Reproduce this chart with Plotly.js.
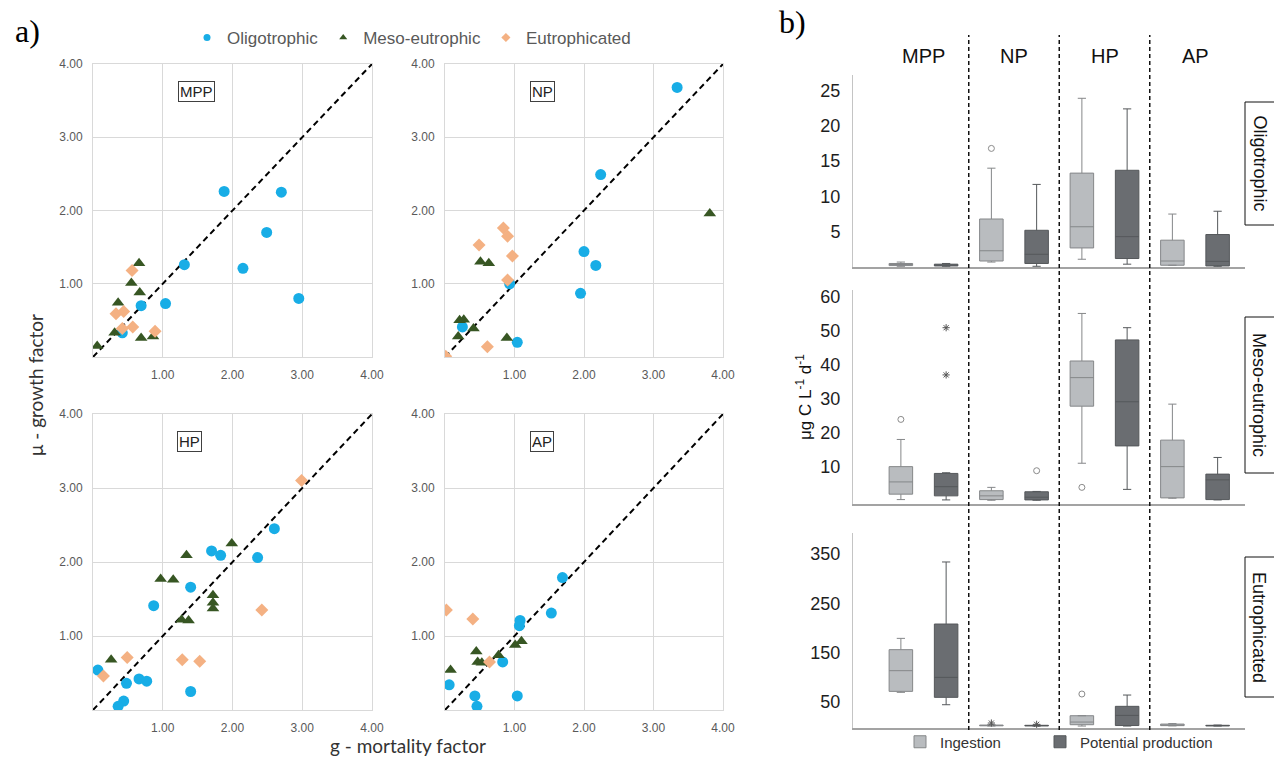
<!DOCTYPE html>
<html><head><meta charset="utf-8">
<script src="https://cdn.plot.ly/plotly-3.0.1.min.js"></script>
<style>html,body{margin:0;padding:0;background:#fff}#chart{width:1274px;height:767px}</style>
</head><body><div id="chart"></div>
<script>
// ---------------- DATA : panel a (g = mortality factor, mu = growth factor) ----------------
const predators = ['MPP', 'NP', 'HP', 'AP'];
const trophic = ['Oligotrophic', 'Meso-eutrophic', 'Eutrophicated'];

const mppOligoG  = [1.88, 2.70, 2.49, 1.31, 2.15, 2.95, 1.04, 0.69, 0.42];
const mppOligoMu = [2.26, 2.25, 1.70, 1.26, 1.21, 0.80, 0.73, 0.70, 0.33];
const mppMesoG   = [0.66, 0.55, 0.67, 0.36, 0.31, 0.69, 0.86, 0.06];
const mppMesoMu  = [1.28, 1.01, 0.88, 0.74, 0.33, 0.26, 0.28, 0.15];
const mppEutroG  = [0.56, 0.33, 0.44, 0.42, 0.57, 0.89];
const mppEutroMu = [1.18, 0.59, 0.62, 0.39, 0.41, 0.35];

const npOligoG  = [3.34, 2.24, 2.00, 2.17, 1.95, 0.93, 1.04, 0.25, 0.00];
const npOligoMu = [3.68, 2.49, 1.44, 1.25, 0.87, 1.00, 0.20, 0.41, 0.00];
const npMesoG   = [3.81, 0.51, 0.63, 0.21, 0.27, 0.41, 0.19, 0.89, 0.00];
const npMesoMu  = [1.96, 1.30, 1.28, 0.50, 0.51, 0.39, 0.28, 0.26, 0.00];
const npEutroG  = [0.84, 0.90, 0.49, 0.97, 0.90, 0.61, 0.01];
const npEutroMu = [1.76, 1.65, 1.53, 1.38, 1.05, 0.14, 0.01];

const hpOligoG  = [2.60, 1.70, 1.83, 2.36, 1.40, 0.87, 0.07, 0.48, 0.66, 0.77, 1.40, 0.44, 0.36];
const hpOligoMu = [2.45, 2.15, 2.09, 2.06, 1.66, 1.41, 0.54, 0.36, 0.42, 0.39, 0.25, 0.12, 0.05];
const hpMesoG   = [1.99, 1.34, 0.97, 1.15, 1.72, 1.72, 1.72, 1.27, 1.37, 0.26];
const hpMesoMu  = [2.25, 2.09, 1.77, 1.76, 1.55, 1.45, 1.37, 1.22, 1.21, 0.68];
const hpEutroG  = [2.99, 2.42, 1.28, 1.53, 0.49, 0.15];
const hpEutroMu = [3.10, 1.35, 0.68, 0.66, 0.71, 0.46];

const apOligoG  = [1.69, 1.53, 1.08, 1.07, 0.83, 0.06, 0.43, 0.46, 1.04];
const apOligoMu = [1.79, 1.31, 1.21, 1.14, 0.65, 0.34, 0.19, 0.05, 0.19];
const apMesoG   = [1.10, 1.01, 0.77, 0.45, 0.47, 0.53, 0.08];
const apMesoMu  = [0.93, 0.88, 0.74, 0.79, 0.65, 0.64, 0.54];
const apEutroG  = [0.02, 0.40, 0.64];
const apEutroMu = [1.35, 1.23, 0.65];

const oneToOne = [0, 4];
const scatterTicks = [1, 2, 3, 4];

// ---------------- DATA : panel b (ug C L-1 d-1), order = predators ----------------
const series = ['Ingestion', 'Potential production'];

const oligoIngLow  = [0.1, 0.7, 1.1, 0.25];
const oligoIngQ1   = [0.2, 0.85, 2.7, 0.25];
const oligoIngMed  = [0.35, 2.3, 5.7, 0.85];
const oligoIngQ3   = [0.5, 6.8, 13.3, 3.8];
const oligoIngHigh = [0.7, 14.0, 23.9, 7.5];
const oligoProLow  = [0.1, 0.1, 0.4, 0.1];
const oligoProQ1   = [0.15, 0.5, 1.2, 0.15];
const oligoProMed  = [0.3, 1.8, 4.3, 0.8];
const oligoProQ3   = [0.4, 5.2, 13.7, 4.6];
const oligoProHigh = [0.5, 11.7, 22.4, 7.9];

const mesoIngLow  = [0.3, 0.1, 11.0, 0.7];
const mesoIngQ1   = [1.9, 0.3, 27.8, 0.8];
const mesoIngMed  = [5.5, 1.4, 36.2, 10.0];
const mesoIngQ3   = [10.0, 2.9, 41.1, 17.8];
const mesoIngHigh = [18.0, 3.9, 55.1, 28.4];
const mesoProLow  = [0.2, 0.1, 3.3, 0.2];
const mesoProQ1   = [1.4, 0.2, 16.1, 0.3];
const mesoProMed  = [4.1, 1.0, 29.1, 6.1];
const mesoProQ3   = [8.0, 2.6, 47.3, 7.8];
const mesoProHigh = [8.2, 2.7, 50.9, 12.7];

const eutroIngLow  = [68.6, 0.0, 0.0, 0.3];
const eutroIngQ1   = [70.6, 0.5, 2.7, 0.8];
const eutroIngMed  = [112.7, 1.0, 8.1, 2.0];
const eutroIngQ3   = [155.5, 2.0, 21.0, 4.0];
const eutroIngHigh = [178.5, 3.0, 21.0, 5.0];
const eutroProLow  = [43.4, 0.0, 0.0, 0.0];
const eutroProQ1   = [58.4, 0.3, 1.0, 0.3];
const eutroProMed  = [99.1, 0.8, 21.7, 0.8];
const eutroProQ3   = [207.7, 1.5, 40.1, 1.5];
const eutroProHigh = [334.0, 2.0, 63.1, 2.0];

const outlierRow      = ['Oligotrophic', 'Meso-eutrophic', 'Meso-eutrophic', 'Meso-eutrophic', 'Meso-eutrophic', 'Meso-eutrophic', 'Eutrophicated', 'Eutrophicated', 'Eutrophicated'];
const outlierPredator = ['NP', 'MPP', 'MPP', 'MPP', 'NP', 'HP', 'NP', 'NP', 'HP'];
const outlierSeries   = ['Ingestion', 'Ingestion', 'Potential production', 'Potential production', 'Potential production', 'Ingestion', 'Ingestion', 'Potential production', 'Ingestion'];
const outlierValue    = [16.8, 23.9, 50.9, 37.0, 8.8, 3.9, 6.1, 3.5, 65.2];
const outlierKind     = ['mild', 'mild', 'extreme', 'extreme', 'mild', 'mild', 'extreme', 'extreme', 'mild'];

const oligoTicks = [5, 10, 15, 20, 25];
const mesoTicks = [10, 20, 30, 40, 50, 60];
const eutroTicks = [50, 150, 250, 350];

// ---------------- BUILD ----------------
const W = 1274, H = 767;
const px = v => v / W;
const py = v => 1 - v / H;

const trophicColor = ['#18ade6', '#375623', '#f4b183'];
const trophicSymbol = ['circle', 'triangle-up', 'diamond'];
const trophicSize = [11, 11, 10];

const scatterSets = [
  [[mppOligoG, mppOligoMu], [mppMesoG, mppMesoMu], [mppEutroG, mppEutroMu]],
  [[npOligoG, npOligoMu], [npMesoG, npMesoMu], [npEutroG, npEutroMu]],
  [[hpOligoG, hpOligoMu], [hpMesoG, hpMesoMu], [hpEutroG, hpEutroMu]],
  [[apOligoG, apOligoMu], [apMesoG, apMesoMu], [apEutroG, apEutroMu]]
];

const traces = [];
scatterSets.forEach((sets, p) => {
  const ax = p === 0 ? '' : String(p + 1);
  traces.push({
    type: 'scatter', mode: 'lines', x: oneToOne, y: oneToOne,
    xaxis: 'x' + ax, yaxis: 'y' + ax, showlegend: false, hoverinfo: 'skip',
    line: {color: '#000', width: 2, dash: '6px,4px'}
  });
  sets.forEach((s, t) => {
    traces.push({
      type: 'scatter', mode: 'markers', x: s[0], y: s[1],
      xaxis: 'x' + ax, yaxis: 'y' + ax, showlegend: false, name: trophic[t],
      marker: {symbol: trophicSymbol[t], size: trophicSize[t], color: trophicColor[t]}
    });
  });
});
// legend entries
trophic.forEach((t, i) => {
  traces.push({
    type: 'scatter', mode: 'markers', x: [null], y: [null], name: t,
    xaxis: 'x', yaxis: 'y', legend: 'legend', showlegend: true,
    marker: {symbol: trophicSymbol[i], size: 7, color: trophicColor[i]}
  });
});

// boxes
const boxRows = [
  [[oligoIngLow, oligoIngQ1, oligoIngMed, oligoIngQ3, oligoIngHigh], [oligoProLow, oligoProQ1, oligoProMed, oligoProQ3, oligoProHigh]],
  [[mesoIngLow, mesoIngQ1, mesoIngMed, mesoIngQ3, mesoIngHigh], [mesoProLow, mesoProQ1, mesoProMed, mesoProQ3, mesoProHigh]],
  [[eutroIngLow, eutroIngQ1, eutroIngMed, eutroIngQ3, eutroIngHigh], [eutroProLow, eutroProQ1, eutroProMed, eutroProQ3, eutroProHigh]]
];
const seriesFill = ['#b9bcbf', '#6a6d71'];
const seriesLine = ['#858789', '#55585b'];
const seriesOffset = [-0.25, 0.25];
const seriesLegend = ['legend2', 'legend3'];

boxRows.forEach((row, r) => {
  row.forEach((st, s) => {
    traces.push({
      type: 'box', name: series[s],
      x: predators.map((_, i) => i + seriesOffset[s]),
      lowerfence: st[0], q1: st[1], median: st[2], q3: st[3], upperfence: st[4],
      xaxis: 'x' + (5 + r), yaxis: 'y' + (5 + r),
      width: 0.26, whiskerwidth: 0.35, boxpoints: false,
      fillcolor: seriesFill[s], line: {color: seriesLine[s], width: 1},
      showlegend: r === 0, legend: seriesLegend[s], hoverinfo: 'skip'
    });
  });
});

// outliers
trophic.forEach((t, r) => {
  ['mild', 'extreme'].forEach(kind => {
    const xs = [], ys = [];
    outlierValue.forEach((v, k) => {
      if (outlierRow[k] === t && outlierKind[k] === kind) {
        xs.push(predators.indexOf(outlierPredator[k]) + seriesOffset[series.indexOf(outlierSeries[k])]);
        ys.push(v);
      }
    });
    if (xs.length) traces.push({
      type: 'scatter', mode: 'markers', x: xs, y: ys, showlegend: false,
      xaxis: 'x' + (5 + r), yaxis: 'y' + (5 + r), cliponaxis: false,
      marker: kind === 'mild'
        ? {symbol: 'circle-open', size: 6, color: '#8a8a8a', line: {width: 1}}
        : {symbol: 'asterisk-open', size: 6, color: '#555', line: {width: 1}}
    });
  });
});

// ---------------- LAYOUT ----------------
const tickFontA = {family: 'Liberation Sans, Arial, sans-serif', size: 12, color: '#595959'};
function scatterAxis(d0, d1, anchor) {
  return {
    domain: [d0, d1], range: [0, 4], tickvals: scatterTicks, tickformat: '.2f',
    showgrid: true, gridcolor: '#d9d9d9', gridwidth: 1, zeroline: false,
    showline: true, mirror: true, linecolor: '#d9d9d9', linewidth: 1,
    ticks: 'outside', ticklen: 7, tickcolor: 'rgba(0,0,0,0)', tickfont: tickFontA,
    anchor: anchor, fixedrange: true
  };
}
const scatterBoxes = [[93, 372, 64, 357], [445, 723, 64, 357], [93, 372, 414, 710], [445, 723, 414, 710]];

const legendBase = {
  orientation: 'h', xanchor: 'left', yanchor: 'middle',
  bgcolor: 'rgba(0,0,0,0)', itemclick: false, itemdoubleclick: false
};
const layout = {
  width: W, height: H, margin: {l: 0, r: 0, t: 0, b: 0},
  paper_bgcolor: '#fff', plot_bgcolor: 'rgba(0,0,0,0)',
  font: {family: 'Liberation Sans, Arial, sans-serif', color: '#222'},
  showlegend: true,
  legend: Object.assign({x: px(187), y: py(38),
    font: {family: 'Liberation Sans, Arial, sans-serif', size: 17, color: '#595959'}}, legendBase),
  legend2: Object.assign({x: px(900), y: py(742),
    font: {family: 'Liberation Sans, Arial, sans-serif', size: 15, color: '#333'}}, legendBase),
  legend3: Object.assign({x: px(1040), y: py(742),
    font: {family: 'Liberation Sans, Arial, sans-serif', size: 15, color: '#333'}}, legendBase),
  annotations: [], shapes: []
};

scatterBoxes.forEach((b, i) => {
  const ax = i === 0 ? '' : String(i + 1);
  layout['xaxis' + ax] = scatterAxis(px(b[0]), px(b[1]), 'y' + ax);
  layout['yaxis' + ax] = scatterAxis(py(b[3]), py(b[2]), 'x' + ax);
});
// predator labels in scatter panels
const labelPos = [[1.49, 3.62], [1.40, 3.62], [1.39, 3.63], [1.40, 3.63]];
predators.forEach((p, i) => {
  const ax = i === 0 ? '' : String(i + 1);
  layout.annotations.push({
    text: p, x: labelPos[i][0], y: labelPos[i][1], xref: 'x' + ax, yref: 'y' + ax,
    xanchor: 'center', yanchor: 'middle',
    showarrow: false, font: {size: 15, color: '#222'},
    bordercolor: '#404040', borderwidth: 1, borderpad: 1, bgcolor: '#fff'
  });
});

// box axes
const boxX = [853, 1245];
const unitPx = 90.5, zeroPx = 923.5;
const boxXRange = [-(zeroPx - boxX[0]) / unitPx, (boxX[1] - zeroPx) / unitPx];
const boxYDom = [[75, 267], [290, 504], [533, 728]];
const boxYRange = [[0, 27.2], [-1.0, 62], [-4, 393]];
const boxYTicks = [oligoTicks, mesoTicks, eutroTicks];
[0, 1, 2].forEach(r => {
  layout['xaxis' + (5 + r)] = {
    domain: [px(boxX[0]), px(boxX[1])], range: boxXRange, showticklabels: false,
    showgrid: false, zeroline: false, showline: true, linecolor: '#a3a3a3', linewidth: 1.5,
    ticks: '', anchor: 'y' + (5 + r), fixedrange: true
  };
  layout['yaxis' + (5 + r)] = {
    domain: [py(boxYDom[r][1]), py(boxYDom[r][0])], range: boxYRange[r], tickvals: boxYTicks[r],
    showgrid: false, zeroline: false, showline: true, linecolor: '#c4c4c4', linewidth: 1,
    ticks: 'outside', ticklen: 8, tickcolor: 'rgba(0,0,0,0)',
    tickfont: {family: 'Liberation Sans, Arial, sans-serif', size: 18, color: '#1e1e1e'},
    anchor: 'x' + (5 + r), fixedrange: true
  };
});

// column headers and dividers
predators.forEach((p, i) => {
  layout.annotations.push({
    text: p, x: i, xref: 'x5', y: py(56), yref: 'paper', showarrow: false,
    xanchor: 'center', yanchor: 'middle',
    font: {size: 20, color: '#111'}
  });
  if (i < predators.length - 1) {
    layout.shapes.push({
      type: 'line', xref: 'x5', x0: i + 0.5, x1: i + 0.5, yref: 'paper', y0: py(730), y1: py(35),
      line: {color: '#111', width: 1.5, dash: '4px,3px'}
    });
  }
});

// facet labels
const facetBox = [[102, 225], [317, 473], [557, 697]];
trophic.forEach((t, r) => {
  layout.shapes.push({
    type: 'rect', xref: 'paper', yref: 'paper', x0: px(1245), x1: px(1300),
    y0: py(facetBox[r][1]), y1: py(facetBox[r][0]), line: {color: '#111', width: 1}, fillcolor: '#fff'
  });
  layout.annotations.push({
    text: t, x: px(1259), y: py((facetBox[r][0] + facetBox[r][1]) / 2), xref: 'paper', yref: 'paper',
    xanchor: 'center', yanchor: 'middle',
    textangle: 90, showarrow: false, font: {size: 18, color: '#111'}
  });
});

// titles and panel labels
const cm = {xref: 'paper', yref: 'paper', xanchor: 'center', yanchor: 'middle', showarrow: false};
layout.annotations.push(
  Object.assign({text: 'μg C L<sup>-1</sup> d<sup>-1</sup>', x: px(804), y: py(397),
   textangle: -90, font: {size: 17, color: '#111'}}, cm),
  Object.assign({text: 'μ - growth factor', x: px(35), y: py(385),
   textangle: -90, font: {family: 'Lato, sans-serif', size: 19, color: '#333'}}, cm),
  Object.assign({text: 'g - mortality factor', x: px(408), y: py(745),
   font: {family: 'Lato, sans-serif', size: 19, color: '#333'}}, cm),
  Object.assign({text: 'a)', x: px(27), y: py(31),
   font: {family: 'Liberation Serif, serif', size: 32, color: '#000'}}, cm),
  Object.assign({text: 'b)', x: px(792), y: py(22),
   font: {family: 'Liberation Serif, serif', size: 32, color: '#000'}}, cm)
);

Plotly.newPlot('chart', traces, layout, {displayModeBar: false, staticPlot: true});
</script>
</body></html>
